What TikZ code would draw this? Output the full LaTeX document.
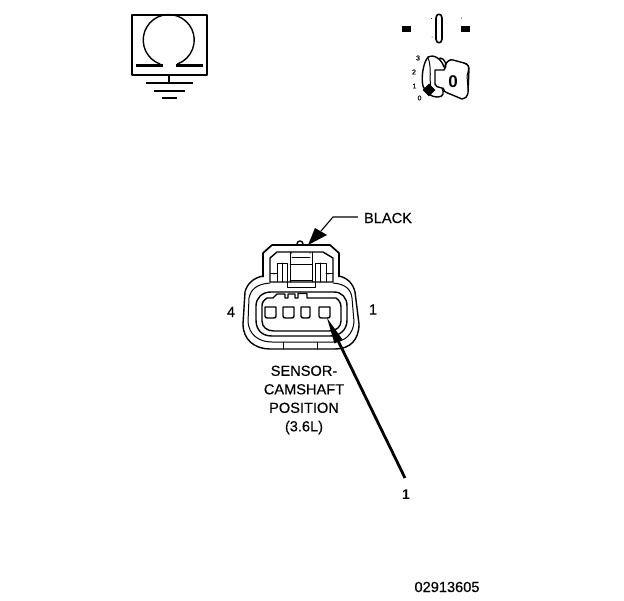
\documentclass[tikz,border=0pt]{standalone}
\usepackage{fontspec}
\setmainfont{Liberation Sans}
\newfontfamily\labelfont[FakeBold=0.35]{Liberation Sans}
\tikzset{
 lbl/.style={inner sep=0pt,font=\labelfont\fontsize{14.6}{18.5}\selectfont,align=center,text=black},
 tiny/.style={inner sep=0pt,font=\labelfont\fontsize{7}{8}\selectfont,text=black},
 thin line/.style={line width=1pt,line join=round,line cap=round},
 mid line/.style={line width=1.4pt,line join=round,line cap=round},
}
\begin{document}
\begin{tikzpicture}[x=1pt,y=-1pt]
\useasboundingbox (0,0) rectangle (624,600);
% meter symbol
\draw[line width=2pt,line join=round] (132,15) rectangle (207,75);
\draw[mid line] (160,64) arc[start angle=110,end angle=430,radius=25.5];
\draw[line width=3pt] (136,65.5) -- (163,65.5) (176,65.5) -- (203,65.5);
\draw[line width=2pt] (169,76) -- (169,83);
\draw[line width=1.5pt] (146,83) -- (193,83);
\draw[line width=1.5pt] (154,91) -- (185,91);
\draw[line width=1.5pt] (162,98) -- (177,98);
% ignition
\fill (402,26) rectangle (411,32);
\fill (461,26) rectangle (470,32);
\draw[line width=1.6pt,line join=round] (436,18) .. controls (436,13) and (442,13) .. (442,18) -- (442,39) .. controls (442,44) and (436,44) .. (436,39) -- cycle;
\fill (431.5,18.5) circle (.5) (461.5,18) circle (.5) (432,37) circle (.5);
\node[tiny] (n3) at (418,58) {3};
\node[tiny] (n2) at (414,72) {2};
\node[tiny] (n1) at (414.5,86) {1};
\node[tiny] (n0) at (419.5,98) {0};
\draw[mid line] (444,67) .. controls (441,58) and (433,54) .. (428,57) .. controls (423,63) and (421,78) .. (423,86) .. controls (425,92) and (430,97) .. (438,97) .. controls (444,97) and (444,92) .. (442,88) .. controls (437,87) and (435,86) .. (435,84) -- (435,70) -- (444,70) .. controls (448,66) and (445,58) .. (440,58);
\draw[thin line] (428,58) .. controls (432,66) and (429,82) .. (431,88);
\draw[mid line] (445,66) .. controls (447,61) and (450,59) .. (453,60) -- (464,63) .. controls (468,65) and (469,66) .. (469,68) -- (468,93) .. controls (467,97) and (465,99) .. (462,99) -- (450,94) .. controls (445,92) and (443,91) .. (443,88);
\draw[thin line] (464,63) .. controls (468,63) and (470,66) .. (467,76) -- (468,88);
\fill[rotate around={45:(429,90)}] (424.5,85.5) rectangle (433.5,94.5);
\node[inner sep=0pt,font=\fontsize{17}{18}\bfseries] (key) at (453,81.5) {0};
% connector hood
\draw[line width=1.7pt,line join=round] (263,277) -- (263,253) -- (272,245) -- (330,245) -- (339,253) -- (339,277);
\draw[mid line] (270,258) -- (277,252) -- (323,252) -- (333,258) -- (333,282) -- (270,282) -- cycle;
\draw[mid line] (297,244) .. controls (297,240) and (303,240) .. (303,244);
% latches
\draw[thin line] (290,252) -- (290,282) (312,252) -- (312,282)
 (292,257) -- (310,257) (290,264) -- (312,264) (290,280) -- (312,280)
 (277,282) -- (277,263) -- (287,263) -- (287,287) -- (315,287) -- (315,263) -- (326,263) -- (326,282)
 (282,263) -- (282,282) (320,263) -- (320,282)
 (270,273) -- (277,273) (326,273) -- (333,273);
\fill (291.5,253) circle (.7) (310,253) circle (.7) (274,274) circle (.7) (328,274) circle (.7);
% body contours
\draw[mid line] (263,276) .. controls (253,278) and (247,284) .. (245,292) -- (243,324) .. controls (243,340) and (255,349) .. (270,349) -- (335,349) .. controls (350,349) and (359,340) .. (359,324) -- (355,292) .. controls (353,284) and (348,278) .. (339,276);
\draw[thin line] (270,283) .. controls (257,284) and (251,289) .. (249,298) -- (248,322) .. controls (249,334) and (258,342) .. (272,342) -- (333,342) .. controls (345,342) and (353,334) .. (354,322) -- (352,298) .. controls (351,289) and (345,284) .. (333,283);
\draw[mid line] (271,292) -- (334,292) .. controls (342,292) and (347,298) .. (347,306) -- (347,320) .. controls (347,330) and (340,336) .. (330,336) -- (272,336) .. controls (262,336) and (256,330) .. (256,320) -- (256,306) .. controls (256,298) and (262,292) .. (271,292);
\draw[mid line] (267,298) -- (273,298) -- (277,294) -- (285,294) -- (285,298) -- (288,298) -- (288,294) -- (295,294) -- (295,298) -- (298,298) -- (298,293.5) -- (307,293.5) -- (307,298) -- (336,298) .. controls (339,300) and (341,303) .. (341,307) -- (341,321) .. controls (341,327) and (336,331) .. (329,331) -- (274,331) .. controls (267,331) and (262,327) .. (262,321) -- (262,306) .. controls (262,302) and (264,300) .. (267,298);
\draw[thin line] (283,342) -- (283,349) (317,342) -- (317,349);
% terminals
\foreach \a/\b in {265/276,283/294,301/310,319/330}{
 \draw[mid line] (\a,307) -- (\a,316) .. controls (\a,317.5) and (\a+1,318) .. (\a+2.5,318) -- (\b-2.5,318) .. controls (\b-1,318) and (\b,317.5) .. (\b,316) -- (\b,307) -- cycle;
}
% labels
\node[lbl] (black) at (388,218) {BLACK};
\coordinate (blackknee) at (333,217);
\coordinate (blackshaft) at (321,231);
\draw[line width=1.1pt] (black.west) ++(-6,-1) -- (blackknee) -- (blackshaft);
\fill (308,245) -- (315,228) -- (327,235) -- cycle;
\node[lbl] (four) at (231,312) {4};
\node[lbl] (one) at (373,309.5) {1};
\node[lbl] (name) at (304,400) {SENSOR-\\CAMSHAFT\\POSITION\\(3.6L)};
\node[inner sep=0pt,font=\fontsize{14}{15}\bfseries] (pin) at (406,495) {1};
\coordinate (pintip) at (327,318);
\coordinate (pinshaft) at (338.4,341.4);
\draw[line width=2.8pt] (405,478) -- (pinshaft);
\fill (pintip) -- (342.5,339.5) -- (334.5,343.5) -- cycle;
\node[lbl] (code) at (447,587) {02913605};
\end{tikzpicture}
\end{document}
